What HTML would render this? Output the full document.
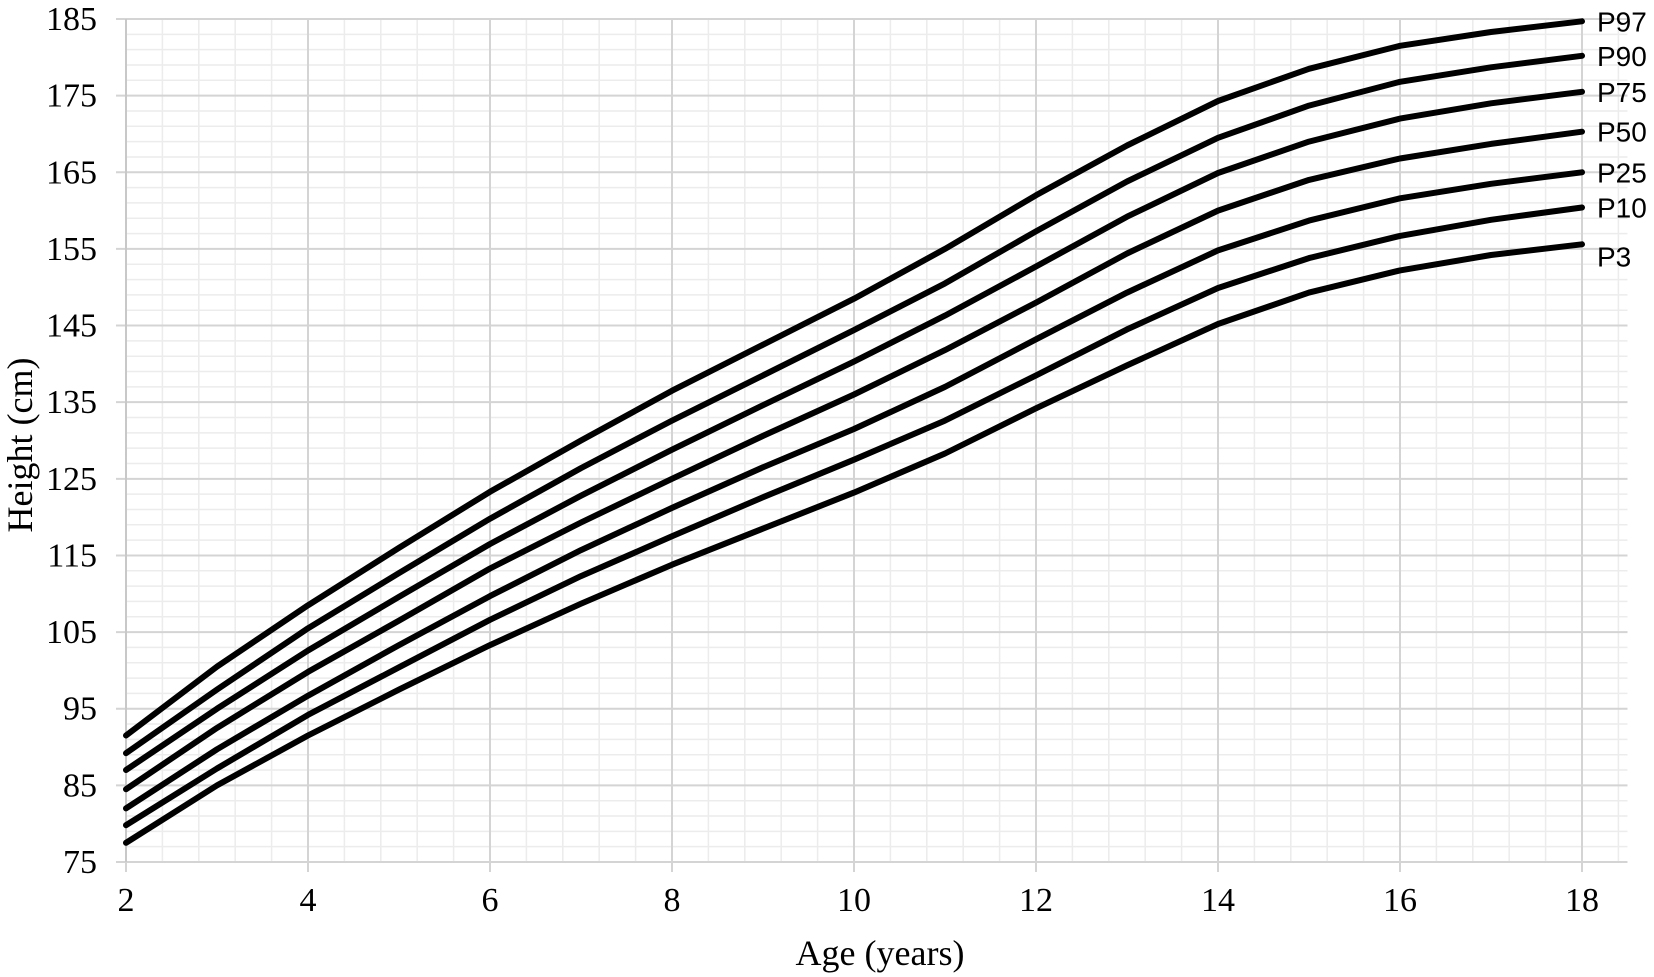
<!DOCTYPE html>
<html><head><meta charset="utf-8"><style>
html,body{margin:0;padding:0;background:#fff;width:1654px;height:977px;overflow:hidden}
svg{display:block}
</style></head><body>
<svg id="chart" width="1654" height="977" viewBox="0 0 1654 977" xmlns="http://www.w3.org/2000/svg">
<g id="grid"></g>
<g id="axes"></g>
<g id="series"></g>
<text x="880" y="965" font-family="Liberation Serif, serif" font-size="36" text-anchor="middle">Age (years)</text>
<text transform="translate(32,445) rotate(-90)" font-family="Liberation Serif, serif" font-size="36" text-anchor="middle">Height (cm)</text>
</svg>
<script>
const ages=[2,3,4,5,6,7,8,9,10,11,12,13,14,15,16,17,18];
const seriesNames=["P97","P90","P75","P50","P25","P10","P3"];
const p97=[91.5,100.5,108.5,116,123.3,130,136.5,142.5,148.5,155,162,168.5,174.3,178.5,181.5,183.3,184.7];
const p90=[89.2,97.5,105.5,112.7,119.8,126.4,132.6,138.5,144.4,150.5,157.3,163.8,169.5,173.7,176.8,178.7,180.2];
const p75=[87,95,102.6,109.6,116.5,122.8,128.8,134.6,140.3,146.3,152.7,159.2,164.9,169,172,174,175.5];
const p50=[84.5,92.5,99.8,106.5,113.3,119.3,125,130.6,136,141.8,148,154.4,160,164,166.8,168.7,170.3];
const p25=[82,89.7,96.7,103.3,109.7,115.7,121.2,126.5,131.5,137,143.2,149.3,154.8,158.7,161.6,163.5,165];
const p10=[79.8,87.2,94.2,100.4,106.6,112.3,117.5,122.6,127.5,132.6,138.5,144.5,149.9,153.8,156.7,158.8,160.4];
const p3=[77.5,85,91.5,97.5,103.3,108.7,113.8,118.5,123.2,128.3,134.2,139.8,145.2,149.3,152.2,154.2,155.6];
const xTicks=[2,4,6,8,10,12,14,16,18];
const yTicks=[75,85,95,105,115,125,135,145,155,165,175,185];

const NS="http://www.w3.org/2000/svg";
const X0=126,X1=1582,XMIN=2,XMAX=18,Y0=862,Y1=19,YMIN=75,YMAX=185;
const xs=v=>X0+(v-XMIN)*(X1-X0)/(XMAX-XMIN);
const ys=v=>Y0-(v-YMIN)*(Y0-Y1)/(YMAX-YMIN);
const XEND=xs(18.5);
function mk(tag,attrs,parent){const e=document.createElementNS(NS,tag);for(const k in attrs)e.setAttribute(k,attrs[k]);parent.appendChild(e);return e;}
const grid=document.getElementById('grid'),axes=document.getElementById('axes'),ser=document.getElementById('series');
// minor grid
for(let v=XMIN;v<=18.5+1e-9;v+=0.4){const l=mk('line',{x1:xs(v),x2:xs(v),y1:Y1,y2:Y0,stroke:'#ececec','stroke-width':1.5},grid);

}
for(let v=YMIN;v<=YMAX+1e-9;v+=2){const l=mk('line',{x1:X0,x2:XEND,y1:ys(v),y2:ys(v),stroke:'#ececec','stroke-width':1.5},grid);

}
// major grid
xTicks.forEach(t=>{const l=mk('line',{x1:xs(t),x2:xs(t),y1:Y1,y2:Y0+10,stroke:'#d4d4d4','stroke-width':2},grid);


const tx=mk('text',{x:xs(t),y:911,'font-family':'Liberation Serif, serif','font-size':34,'text-anchor':'middle'},axes);tx.textContent=t;

});
yTicks.forEach(t=>{const l=mk('line',{x1:X0-10,x2:XEND,y1:ys(t),y2:ys(t),stroke:'#d4d4d4','stroke-width':2},grid);


const tx=mk('text',{x:97,y:ys(t)+11,'font-family':'Liberation Serif, serif','font-size':34,'text-anchor':'end'},axes);tx.textContent=t;

});
const ax=mk('line',{x1:X0,x2:X0,y1:Y1,y2:Y0,stroke:'#c8c8c8','stroke-width':2},axes);


const seriesData=[p97,p90,p75,p50,p25,p10,p3];
seriesData.forEach((d,i)=>{
 const pts=ages.map((a,j)=>xs(a).toFixed(1)+','+ys(d[j]).toFixed(1)).join(' ');
 const pl=mk('polyline',{points:pts,fill:'none',stroke:'#000','stroke-width':6,'stroke-linejoin':'round','stroke-linecap':'round'},ser);
 
 
 const lb=mk('text',{x:1597,y:ys(d[d.length-1])+(seriesNames[i]==='P3'?22:10),'font-family':'Liberation Sans, sans-serif','font-size':28},ser);
 lb.textContent=seriesNames[i];
 
 
});
</script>
</body></html>
